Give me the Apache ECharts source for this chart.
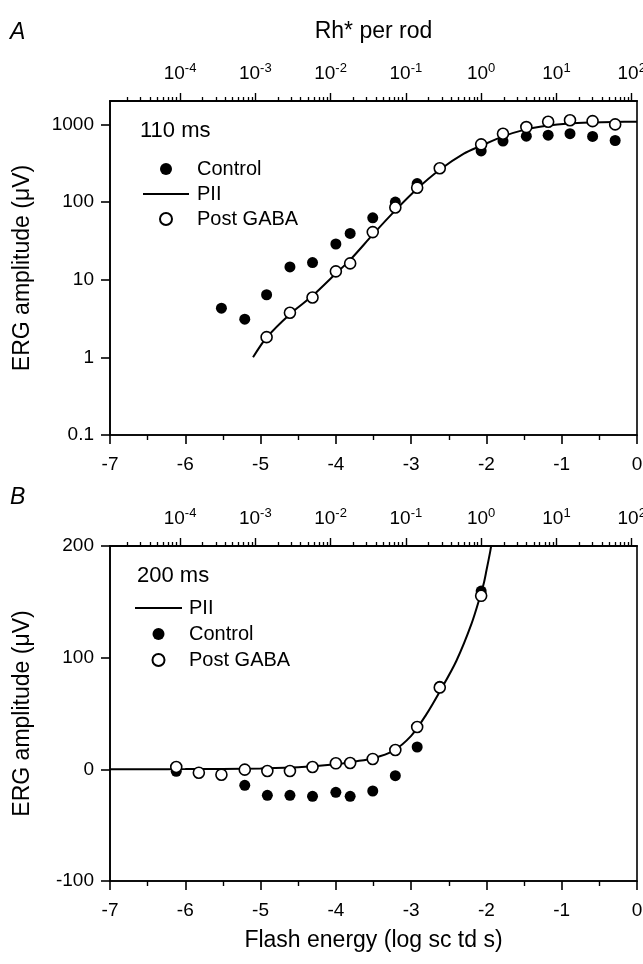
<!DOCTYPE html>
<html><head><meta charset="utf-8">
<script src="https://cdn.jsdelivr.net/npm/echarts@6/dist/echarts.min.js"></script>
<style>html,body{margin:0;padding:0;background:#fff}#c{width:643px;height:964px}</style>
</head><body><div id="c"></div>
<script>
// ---------- data ----------
// Panel A (110 ms)
const aControlX = [-5.52,-5.21,-4.92,-4.61,-4.31,-4.00,-3.81,-3.51,-3.21,-2.92,-2.07,-1.78,-1.47,-1.18,-0.89,-0.59,-0.29];
const aControlY = [4.3,3.1,6.4,14.6,16.6,28.8,39.4,62.7,100,173,455,610,705,725,760,700,620];
const aGabaX = [-4.92,-4.61,-4.31,-4.00,-3.81,-3.51,-3.21,-2.92,-2.62,-2.07,-1.78,-1.47,-1.18,-0.89,-0.59,-0.29];
const aGabaY = [1.82,3.75,5.9,12.8,16.2,41,85,153,272,553,757,923,1080,1130,1100,1000];
const aPIIX = [-5.1,-4.92,-4.61,-4.31,-4.0,-3.81,-3.51,-3.21,-2.92,-2.62,-2.3,-2.07,-1.78,-1.5,-1.2,-0.9,-0.6,-0.3,0];
const aPIIY = [1.0,1.8,3.6,6.2,12,18,38,78,148,260,420,530,700,850,960,1030,1060,1075,1080];
// Panel B (200 ms)
const bControlX = [-6.12,-5.21,-4.91,-4.61,-4.31,-4.00,-3.81,-3.51,-3.21,-2.92,-2.62,-2.07];
const bControlY = [-1.8,-14.3,-23.3,-23.3,-24.2,-20.6,-24.2,-19.4,-5.7,20,74.4,159.6];
const bGabaX = [-6.12,-5.82,-5.52,-5.21,-4.91,-4.61,-4.31,-4.00,-3.81,-3.51,-3.21,-2.92,-2.62,-2.07];
const bGabaY = [2.1,-3.0,-4.8,-0.3,-1.5,-1.5,2.1,5.4,5.7,9.3,17.3,37.9,73.3,155.4];
const bPIIX = [-7,-6.5,-6,-5.5,-5,-4.5,-4,-3.75,-3.5,-3.25,-3,-2.8,-2.6,-2.4,-2.2,-2.07,-2.03,-2.0,-1.95,-1.93];
const bPIIY = [0,0.1,0.2,0.4,0.8,1.8,4.5,7,10,16,30,49,72,97,130,158,168,178,195,203];
// axes
const xTicks = [-7,-6,-5,-4,-3,-2,-1,0];
const rhOffset = 2.07;              // log10(Rh*) = log flash energy + offset
const rhDecades = [-5,-4,-3,-2,-1,0,1,2];
const rhLabelDecades = [-4,-3,-2,-1,0,1,2];
const rhMinorMult = [2,3,4,5,6,7,8,9];
const aYTicks = [0.1,1,10,100,1000];
const bYTicks = [-100,0,100,200];

// ---------- build ----------
const FONT = 'Liberation Sans, Arial, Helvetica, sans-serif';
const pairs = (xs, ys) => xs.map((x, i) => [x, ys[i]]);
const rhMin = -7 + rhOffset, rhMax = 0 + rhOffset;
const rhMinor = [];
rhDecades.forEach(d => rhMinorMult.forEach(m => {
  const v = d + Math.log10(m);
  if (v > rhMin && v < rhMax) rhMinor.push(v);
}));
const axisLine = {show: true, onZero: false, lineStyle: {color: '#000', width: 1.6}};
const tickLbl = {color: '#000', fontFamily: FONT, fontSize: 19};

function bottomAxis(grid, withName) {
  return {
    type: 'value', gridIndex: grid, position: 'bottom', min: xTicks[0], max: xTicks[xTicks.length - 1], interval: 1,
    axisLine, splitLine: {show: false},
    axisTick: {show: true, length: 9, lineStyle: {color: '#000', width: 1.6}},
    minorTick: {show: true, splitNumber: 2, length: 5, lineStyle: {color: '#000', width: 1.4}},
    axisLabel: Object.assign({margin: 20}, tickLbl),
    name: withName ? 'Flash energy (log sc td s)' : '',
    nameLocation: 'middle', nameGap: 48,
    nameTextStyle: {color: '#000', fontFamily: FONT, fontSize: 23}
  };
}
function topMajor(grid, withName) {
  return {
    type: 'value', gridIndex: grid, position: 'top', min: rhMin, max: rhMax,
    axisLine, splitLine: {show: false},
    axisTick: {show: true, length: 8, customValues: rhLabelDecades, lineStyle: {color: '#000', width: 1.4}},
    axisLabel: {
      margin: 15, customValues: rhLabelDecades,
      formatter: v => '{b|10}{s|' + Math.round(v) + '}',
      rich: {
        b: {fontFamily: FONT, fontSize: 19, color: '#000'},
        s: {fontFamily: FONT, fontSize: 13, color: '#000', padding: [0, 0, 11, 0]}
      }
    },
    name: withName ? 'Rh* per rod' : '', nameLocation: 'middle', nameGap: 58,
    nameTextStyle: {color: '#000', fontFamily: FONT, fontSize: 23}
  };
}
function topMinor(grid) {
  return {
    type: 'value', gridIndex: grid, position: 'top', min: rhMin, max: rhMax,
    axisLine, splitLine: {show: false},
    axisTick: {show: true, length: 4, customValues: rhMinor, lineStyle: {color: '#000', width: 1.3}},
    axisLabel: {show: false}
  };
}
const yName = 'ERG amplitude (μV)';
const yNameStyle = {color: '#000', fontFamily: FONT, fontSize: 23};

const filled = {color: '#000', opacity: 1};
const open = {color: '#fff', borderColor: '#000', borderWidth: 1.6, opacity: 1};

const option = {
  backgroundColor: '#fff',
  animation: false,
  grid: [
    {left: 110, top: 101, width: 527, height: 334, show: true, borderColor: '#000', borderWidth: 1.6,
     outerBoundsMode: 'none', containLabel: false},
    {left: 110, top: 546, width: 527, height: 335, show: true, borderColor: '#000', borderWidth: 1.6,
     outerBoundsMode: 'none', containLabel: false}
  ],
  xAxis: [bottomAxis(0, false), topMajor(0, true), topMinor(0),
          bottomAxis(1, true), topMajor(1, false), topMinor(1)],
  yAxis: [
    {type: 'log', logBase: 10, gridIndex: 0, min: 0.1, max: 2000, position: 'left',
     axisLine, splitLine: {show: false}, minorTick: {show: false},
     axisTick: {show: true, length: 9, customValues: aYTicks, lineStyle: {color: '#000', width: 1.6}},
     axisLabel: Object.assign({margin: 16, customValues: aYTicks, formatter: v => {
        const hit = aYTicks.find(t => Math.abs(Math.log10(t) - Math.log10(v)) < 1e-6);
        return hit === undefined ? '' : String(hit);
     }}, tickLbl),
     name: yName, nameLocation: 'middle', nameGap: 76, nameTextStyle: yNameStyle},
    {type: 'value', gridIndex: 1, min: bYTicks[0], max: bYTicks[bYTicks.length - 1], interval: 100, position: 'left',
     axisLine, splitLine: {show: false},
     axisTick: {show: true, length: 9, lineStyle: {color: '#000', width: 1.6}},
     axisLabel: Object.assign({margin: 16}, tickLbl),
     name: yName, nameLocation: 'middle', nameGap: 76, nameTextStyle: yNameStyle}
  ],
  legend: [
    {orient: 'vertical', left: 142, top: 159, padding: 0, itemGap: 5, itemWidth: 46, itemHeight: 12,
     data: ['Control', {name: 'PII', itemStyle: {opacity: 0}}, 'Post GABA'],
     textStyle: {color: '#000', fontFamily: FONT, fontSize: 20, padding: [0, 0, 0, 3]}},
    {orient: 'vertical', left: 134, top: 598, padding: 0, itemGap: 6, itemWidth: 47, itemHeight: 12,
     data: [{name: 'PII', itemStyle: {opacity: 0}}, 'Control', 'Post GABA'],
     textStyle: {color: '#000', fontFamily: FONT, fontSize: 20, padding: [0, 0, 0, 2]}}
  ],
  graphic: [
    {type: 'text', left: 10, top: 21, style: {text: 'A', font: 'italic 23px ' + FONT, fill: '#000'}},
    {type: 'text', left: 10, top: 486, style: {text: 'B', font: 'italic 23px ' + FONT, fill: '#000'}},
    {type: 'text', left: 140, top: 120, style: {text: '110 ms', font: '22px ' + FONT, fill: '#000'}},
    {type: 'text', left: 137, top: 565, style: {text: '200 ms', font: '22px ' + FONT, fill: '#000'}}
  ],
  series: [
    {name: 'Control', type: 'scatter', xAxisIndex: 0, yAxisIndex: 0, symbolSize: 11,
     itemStyle: filled, data: pairs(aControlX, aControlY), z: 2},
    {name: 'PII', type: 'line', xAxisIndex: 0, yAxisIndex: 0, symbol: 'none', showSymbol: false, smooth: 0.3,
     lineStyle: {color: '#000', width: 2}, itemStyle: {color: '#000'}, data: pairs(aPIIX, aPIIY), z: 3},
    {name: 'Post GABA', type: 'scatter', xAxisIndex: 0, yAxisIndex: 0, symbolSize: 11,
     itemStyle: open, data: pairs(aGabaX, aGabaY), z: 4},
    {name: 'PII', type: 'line', xAxisIndex: 3, yAxisIndex: 1, symbol: 'none', showSymbol: false, smooth: 0.3,
     lineStyle: {color: '#000', width: 2}, itemStyle: {color: '#000'}, data: pairs(bPIIX, bPIIY), z: 3},
    {name: 'Control', type: 'scatter', xAxisIndex: 3, yAxisIndex: 1, symbolSize: 11,
     itemStyle: filled, data: pairs(bControlX, bControlY), z: 2},
    {name: 'Post GABA', type: 'scatter', xAxisIndex: 3, yAxisIndex: 1, symbolSize: 11,
     itemStyle: open, data: pairs(bGabaX, bGabaY), z: 4}
  ]
};
echarts.init(document.getElementById('c'), null, {renderer: 'canvas'}).setOption(option);
</script>
</body></html>
